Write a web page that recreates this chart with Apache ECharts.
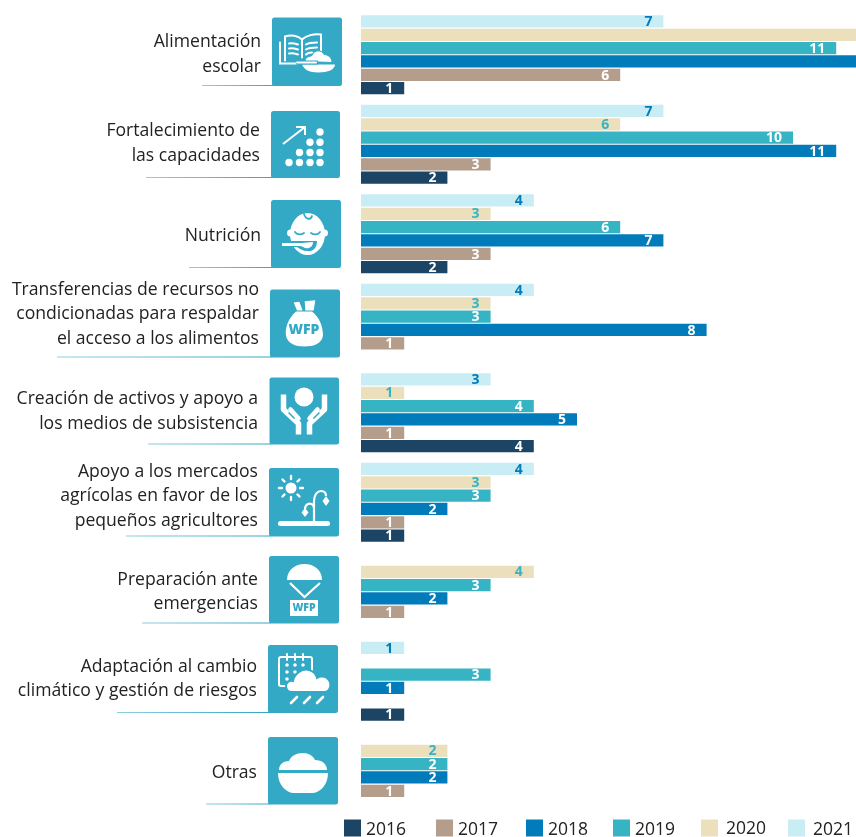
<!DOCTYPE html>
<html><head><meta charset="utf-8">
<style>html,body{margin:0;padding:0;background:#fff}#c{width:856px;height:837px}</style>
<script src="https://cdn.jsdelivr.net/npm/echarts@6/dist/echarts.min.js"></script>
</head><body><div id="c"></div>
<script>
// ---------- data ----------
const categories = [
  'Alimentación\nescolar',
  'Fortalecimiento de\nlas capacidades',
  'Nutrición',
  'Transferencias de recursos no\ncondicionadas para respaldar\nel acceso a los alimentos',
  'Creación de activos y apoyo a\nlos medios de subsistencia',
  'Apoyo a los mercados\nagrícolas en favor de los\npequeños agricultores',
  'Preparación ante\nemergencias',
  'Adaptación al cambio\nclimático y gestión de riesgos',
  'Otras'
];
const years = ['2016', '2017', '2018', '2019', '2020', '2021'];
const v2016 = [1, 2, 2, null, 4, 1, null, 1, null];
const v2017 = [6, 3, 3, 1, 1, 1, 1, null, 1];
const v2018 = [12, 11, 7, 8, 5, 2, 2, 1, 2];
const v2019 = [11, 10, 6, 3, 4, 3, 3, 3, 2];
const v2020 = [12, 6, 3, 3, 1, 3, 4, null, 2];
const v2021 = [7, 7, 4, 4, 3, 4, null, 1, null];

// ---------- styles / layout ----------
const colors = {2016:'#1b4465',2017:'#b59d8b',2018:'#027bba',2019:'#37b4c4',2020:'#ecdfbc',2021:'#c8edf5'};
const labelColors = {2016:'#fff',2017:'#fff',2018:'#fff',2019:'#fff',2020:'#37b4c4',2021:'#027bba'};
const FONT = '"Open Sans", sans-serif';
const TEAL = '#33a9c6';
const LINE_H = 24.5;
const labelShiftLeft = [0, 1, 0, 2, 3, 3, 3, 4, 4];
const labelShiftUp = [0.5, 1, -2.5, 9, 1.5, 6, 0, 2.5, -2.5];
const boxes = [[272,17.5,70,68.5],[271,111,69,67],[271,200,70,68],[270,289.5,70,68],[269.5,377.5,69.5,67],[269,468,70,68.5],[269,556,70,67.5],[268,645,70,68],[268,737,70,67.5]];
const ruleStart = [202,146,189,57,148,126,142,117,206];
const legendX = [344,436,526,613,701,788];
const legendGap = [0,0,0,0,3,3];
const legendDrop = [4,4,4,4,2,4];
const CLIPPED_FROM = 12; // bars that run past the page edge lose their label

const W = '#fff';
const svg = inner => 'data:image/svg+xml;charset=utf-8,' + encodeURIComponent(
  '<svg xmlns="http://www.w3.org/2000/svg" width="70" height="68" viewBox="0 0 70 68">' + inner + '</svg>');
const icons = [
 // school meals
 `<g fill="none" stroke="${W}" stroke-width="2" stroke-linecap="round">
   <path d="M13 43V19C19 17 26 18 30 22C34 18 42 16 49 17V33"/><path d="M30 22V40"/><path d="M8 25V46H25"/>
   <path d="M17 26C20 25 23 26 26 27M17 31C20 30 23 31 26 32M17 36C20 35 23 36 26 37M34 27C37 25 41 25 45 25M34 32C37 30 41 30 45 30M34 37C36 35 38 35 40 35"/></g>
   <path fill="${W}" stroke="${TEAL}" stroke-width="1" d="M33 44C33 39 38 39 40 38C42 32 50 32 52 37C56 37 60 40 60 45Z"/>
   <path fill="${W}" d="M30 47H63C63 52 56 55 46 55C37 55 32 52 30 47Z"/>
   <path stroke="${TEAL}" stroke-width="4" d="M24 45H46"/><path stroke="${W}" stroke-width="2" stroke-linecap="round" d="M25 45H44"/>`,
 // capacity
 `<g fill="none" stroke="${W}" stroke-width="2"><path d="M12 33L34 16M25 16H34V24"/></g>
  <g fill="${W}"><circle cx="49" cy="21" r="3.7"/><circle cx="39" cy="31.3" r="3.7"/><circle cx="49" cy="31.3" r="3.7"/>
  <circle cx="28.5" cy="41.5" r="3.7"/><circle cx="39" cy="41.5" r="3.7"/><circle cx="49" cy="41.5" r="3.7"/>
  <circle cx="18" cy="51.5" r="3.7"/><circle cx="28.5" cy="51.5" r="3.7"/><circle cx="39" cy="51.5" r="3.7"/><circle cx="49" cy="51.5" r="3.7"/></g>`,
 // nutrition
 `<ellipse cx="36.5" cy="34" rx="17.5" ry="21" fill="${W}"/><circle cx="19.5" cy="33" r="3.5" fill="${W}"/><circle cx="53.5" cy="33" r="3.5" fill="${W}"/>
  <g fill="none" stroke="${TEAL}" stroke-width="1.8" stroke-linecap="round"><path d="M33 14C35 20 40 20 41 16"/><path d="M24 32C26 35 30 35 33 33M40 33C43 35 47 35 49 32"/></g>
  <path fill="${TEAL}" d="M8 41H34L46 41C46 48 42 52 36 51C32 51 29 49 26 47H8Z"/>
  <path fill="${W}" d="M11 43H31C34 43 38 42 42 42C42 47 38 49 34 48C32 47 31 46 29 46H11Z"/>`,
 // transfers
 `<path fill="${W}" d="M26 22C17 30 15 40 16 46C17 54 26 57 34 57C44 57 52 54 53 46C53 38 50 28 42 22Z"/>
  <path fill="${W}" d="M23.7 13L29.3 12.3L32.7 21H27ZM34.7 11.7L45.3 10.7L43.7 21H35.3Z"/>`,
 // assets
 `<circle cx="34.5" cy="19.5" r="9.5" fill="${W}"/>
  <g fill="none" stroke="${W}" stroke-width="5.5" stroke-linejoin="round"><path d="M14 17V32L29 46V57"/><path d="M55 17V32L40 46V57"/></g>
  <g fill="none" stroke="${W}" stroke-width="4.5" stroke-linecap="round"><path d="M21 32L29 41"/><path d="M48 32L40 41"/></g>
  <path stroke="${TEAL}" stroke-width="1.5" fill="none" d="M19 35L25 41M50 35L44 41"/>`,
 // markets
 `<circle cx="22" cy="20" r="5.5" fill="${W}"/>
  <g stroke="${W}" stroke-width="2.4" stroke-linecap="round"><path d="M22 8V11M22 29V32M10 20H13M31 20H34M13.5 11.5L15.5 13.5M28.5 26.5L30.5 28.5M13.5 28.5L15.5 26.5M28.5 13.5L30.5 11.5"/></g>
  <rect x="9" y="53" width="52" height="5" rx="2.5" fill="${W}"/>
  <g fill="none" stroke="${W}" stroke-width="2.2"><path d="M45 54V33C45 26 49 23 52 23C55 23 57 25 57 28"/><path d="M45 40C45 36 41 35 39 36C37 37 36 38 36 41"/></g>
  <path fill="${W}" d="M57 28L60.5 33L57 38L53.5 33ZM36 40L39.5 44.5L36 49L32.5 44.5Z"/>`,
 // emergencies
 `<path fill="${W}" d="M18 24C18 14 26 8 35.5 8C45 8 53 14 53 24Z"/>
  <path fill="none" stroke="${W}" stroke-width="2.2" d="M21 27L35.5 41L51 27"/>
  <rect x="21" y="44" width="28" height="16" fill="${W}"/>`,
 // climate
 `<g fill="none" stroke="${W}" stroke-width="2" stroke-linecap="round"><rect x="11" y="12" width="33" height="29" rx="2"/><path d="M19 9V15M27 9V15M35 9V15"/></g>
  <g fill="${W}"><circle cx="19" cy="20" r="1.8"/><circle cx="27" cy="20" r="1.8"/><circle cx="35" cy="20" r="1.8"/><circle cx="19" cy="27" r="1.8"/><circle cx="27" cy="27" r="1.8"/><circle cx="19" cy="34" r="1.8"/></g>
  <path fill="${W}" stroke="${TEAL}" stroke-width="2" d="M24 47C20 47 18 44 18 41C18 38 21 35 25 36C26 29 34 23 41 25C45 26 48 29 49 33C52 31 57 31 60 34C64 38 63 47 56 47Z"/>
  <g stroke="${W}" stroke-width="2.6" stroke-linecap="round"><path d="M23 58L29 52M36 58L42 52M49 58L55 52"/></g>`,
 // other
 `<path fill="${W}" d="M11 33C11 27 16 24 21 24C23 19 28 16 35 16C41 16 45 19 47 23C54 23 59 27 59 33Z"/>
  <path fill="${W}" d="M10 36H60C60 48 52 56 44 56H26C18 56 10 48 10 36Z"/>`
];
// WFP marks on two icons stay real text
const iconText = {3:[34,41,14],6:[35,52.5,10.5]};

const graphic = [];
boxes.forEach((b, i) => {
  graphic.push({type:'line', silent:true, z:10,
    shape:{x1:ruleStart[i], y1:b[1]+b[3]-0.5, x2:b[0]+2, y2:b[1]+b[3]-0.5},
    style:{lineWidth:1, stroke:{type:'linear',x:0,y:0,x2:1,y2:0,colorStops:[{offset:0,color:'#8fd0e0'},{offset:1,color:'#33a4c4'}]}}});
  const children = [
    {type:'rect', shape:{x:0,y:0,width:b[2],height:b[3],r:2.5}, style:{fill:TEAL}},
    {type:'image', style:{image:svg(icons[i]), x:0, y:0, width:70, height:68}}
  ];
  const t = iconText[i];
  if (t) children.push({type:'text', x:t[0], y:t[1], style:{text:'WFP', fill:TEAL, font:`800 ${t[2]}px ${FONT}`, align:'center', verticalAlign:'middle'}});
  graphic.push({type:'group', x:b[0], y:b[1], silent:true, z:11, children});
});

const valuesByYear = {2016:v2016,2017:v2017,2018:v2018,2019:v2019,2020:v2020,2021:v2021};
const series = years.slice().reverse().map(y => ({
  name:y, type:'bar', barWidth:12.3, barGap:'8.5%',
  data:valuesByYear[y].map(v => v >= CLIPPED_FROM ? {value:v, label:{show:false}} : v),
  itemStyle:{color:colors[y]}, silent:true,
  label:{show:true, position:'insideRight', distance:11, offset:[0,0.7], color:labelColors[y], fontFamily:FONT, fontWeight:700, fontSize:14}
}));

const legend = years.map((y,i) => ({
  data:[{name:y, icon:'rect'}], left:legendX[i], top:819.5, itemWidth:17, itemHeight:17, padding:0, itemGap:0, selectedMode:false,
  formatter:'{t|{name}}',
  textStyle:{color:'#222', fontFamily:FONT, fontSize:17.5,
    rich:{t:{color:'#222', fontFamily:FONT, fontSize:17.5, padding:[legendDrop[i],0,0,legendGap[i]]}}}
}));

const chart = echarts.init(document.getElementById('c'), null, {renderer:'canvas'});
chart.setOption({
  animation:false, backgroundColor:'#fff', legend, graphic, series,
  grid:{left:361, top:10.05, width:518.4, height:805.5, containLabel:false, outerBoundsMode:'none'},
  xAxis:{type:'value', min:0, max:12, show:false},
  yAxis:{type:'category', inverse:true,
    data:categories.map((c,i) => ({value:c, textStyle:{verticalAlign:'bottom',
      padding:[0, labelShiftLeft[i], labelShiftUp[i] - c.split('\n').length*LINE_H/2, 0]}})),
    axisLine:{show:false}, axisTick:{show:false}, splitLine:{show:false},
    axisLabel:{interval:0, margin:100, align:'right', color:'#222', fontFamily:FONT, fontSize:17.6, lineHeight:LINE_H}}
});
</script></body></html>
